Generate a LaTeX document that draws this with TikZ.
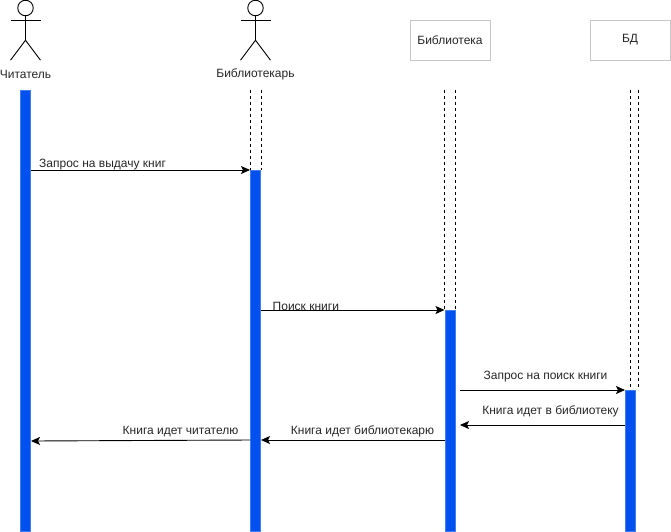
\documentclass[tikz,border=0pt]{standalone}
\usepackage{fontspec}
\setmainfont{Liberation Sans}
\usepackage{xcolor}
\usetikzlibrary{arrows.meta,calc,positioning}
\definecolor{barfill}{HTML}{0050EF}
\definecolor{barline}{HTML}{3F7FF0}
\tikzset{%
	lifebar/.style  = {draw=barline, fill=barfill, line width=1pt, rectangle, anchor=north, minimum width=10pt, inner sep=0pt},
	head/.style     = {draw, circle, minimum size=15.5pt, inner sep=0pt, line width=0.9pt},
	object/.style   = {draw=black!22, rectangle, minimum width=80pt, minimum height=40pt, line width=0.9pt, inner sep=0pt},
	label/.style    = {inner sep=0pt, text=black!85},
	waypoint/.style = {coordinate},
	lifeline/.style = {dash pattern=on 3pt off 3pt, line width=0.9pt},
	message/.style  = {line width=0.9pt, -{Stealth[length=9pt,width=8pt,inset=2pt]}},
}
\begin{document}
\begin{tikzpicture}[x=1pt,y=-1pt,font=\fontsize{12}{14}\selectfont]
	\useasboundingbox (0,0) rectangle (671,531);

	\node [head] (headr) at (25.5,8) {};
	\node [head] (headb) at (255.5,8) {};
	\foreach \n in {r,b} {
		\draw[line width=0.9pt] (headb.south -| head\n) -- ++(0,24) coordinate (hip\n)
			-- ++(-15,20) (hip\n) -- ++(15,20);
		\draw[line width=0.9pt] ($(head\n)+(-15,12)$) -- ++(30,0);
	}
	\node [label] (reader) at (25.5,74) {Читатель};
	\node [label] (librarian) at (255.5,74) {Библиотекарь};
	\node [object] (library) at (450,40) {\textcolor{black!85}{Библиотека}};
	\node [object] (db) at (630,40) {\textcolor{black!85}{БД}};

	\node [lifebar,minimum height=441pt] (barr) at (25.5,90) {};
	\node [lifebar,minimum height=361pt] (barb) at (255.5,170) {};
	\node [lifebar,minimum height=221pt] (barl) at (450,310) {};
	\node [lifebar,minimum height=141pt] (bard) at (630.5,390) {};

	% lifelines above the bars
	\node [waypoint] (topb) at (255.5,90) {};
	\node [waypoint] (topl) at (450,90) {};
	\node [waypoint] (topd) at (634,90) {};
	\draw[lifeline] (topb -| barb.north west) -- (barb.north west);
	\draw[lifeline] (topb -| barb.north east) -- (barb.north east);
	\draw[lifeline] (topl -| barl.north west) -- (barl.north west);
	\draw[lifeline] (topl -| barl.north east) -- (barl.north east);
	\draw[lifeline] ($(topd)+(-4,0)$) -- ($(topd |- bard.north)+(-4,0)$);
	\draw[lifeline] ($(topd)+(4,0)$) -- ($(topd |- bard.north)+(4,0)$);

	% messages
	\node [waypoint] (reqs) at (460,390) {};
	\node [waypoint] (rets) at (460,425) {};
	\node [waypoint] (retl) at (445,440) {};
	\node [waypoint] (retb) at (250,440) {};
	\node [waypoint] (retr) at (31,441) {};

	\draw[message] (barr.east |- barb.north) -- (barb.north west);
	\draw[message] (barb.east |- barl.north) -- (barl.north west);
	\draw[message] (reqs) -- (reqs -| bard.west);
	\draw[message] (rets -| bard.west) -- (rets);
	\draw[message] (retl) -- (retl -| barb.east);
	\draw[message] (retb) -- (retr);

	\node [label,anchor=west] (m1) at (39,165) {Запрос на выдачу книг};
	\node [label,anchor=west] (m2) at (272.5,306) {Поиск книги};
	\node [label] (m3) at (545.5,376.5) {Запрос на поиск книги};
	\node [label] (m4) at (550.5,411) {Книга идет в библиотеку};
	\node [label] (m5) at (362.5,431.5) {Книга идет библиотекарю};
	\node [label] (m6) at (180.5,431.5) {Книга идет читателю};
\end{tikzpicture}
\end{document}
